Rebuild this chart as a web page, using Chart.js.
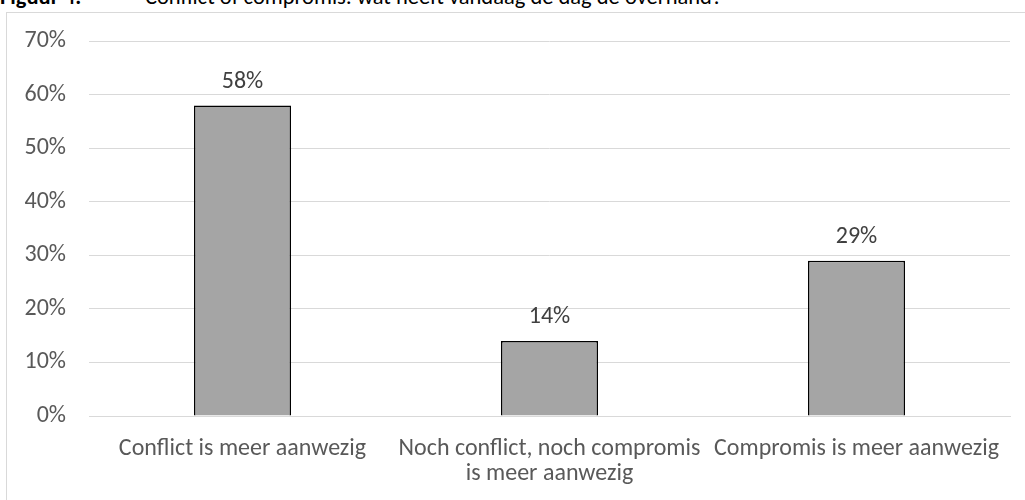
<!DOCTYPE html>
<html>
<head>
<meta charset="utf-8">
<script src="https://cdn.jsdelivr.net/npm/chart.js@4"></script>
<style>
  body { margin: 0; width: 1025px; height: 500px; overflow: hidden; background: #fff;
         font-family: 'Carlito', 'Liberation Sans Narrow', 'Open Sans', sans-serif; }
  #title { position: absolute; left: 0; top: -14px; font-size: 22.5px; line-height: 22px;
           white-space: nowrap; color: #000; }
  #title b { display: inline-block; width: 145px; }
  #frame { position: absolute; left: 6px; top: 12px; width: 1030px; height: 500px;
           border: 1px solid #d9d9d9; box-sizing: border-box; }
  #wrap { position: absolute; left: 7px; top: 4px; width: 1018px; height: 496px; }
</style>
</head>
<body>
<div id="title"><b>Figuur 4.</b>Conflict of compromis: wat heeft vandaag de dag de overhand?</div>
<div id="frame"></div>
<div id="wrap"><canvas id="chart"></canvas></div>
<script>
const FONT = "'Carlito', 'Liberation Sans Narrow', 'Open Sans', sans-serif";

const categories = [
  'Conflict is meer aanwezig',
  ['Noch conflict, noch compromis', 'is meer aanwezig'],
  'Compromis is meer aanwezig',
];
const values = [58, 14, 29];
const yTicks = [0, 10, 20, 30, 40, 50, 60, 70];

// labels boven de staven
const barLabels = {
  id: 'barLabels',
  afterDatasetsDraw(chart) {
    const ctx = chart.ctx;
    const meta = chart.getDatasetMeta(0);
    ctx.save();
    ctx.font = `24px ${FONT}`;
    ctx.fillStyle = '#404040';
    ctx.textAlign = 'center';
    ctx.textBaseline = 'middle';
    meta.data.forEach((bar, i) => {
      ctx.fillText(values[i] + '%', bar.x, bar.y - 24);
    });
    ctx.restore();
  },
};

new Chart(document.getElementById('chart'), {
  type: 'bar',
  data: {
    labels: categories,
    datasets: [{
      data: values,
      backgroundColor: '#a5a5a5',
      borderColor: '#000',
      borderWidth: 1.5,
      categoryPercentage: 1,
      barPercentage: 0.316,
    }],
  },
  options: {
    responsive: true,
    maintainAspectRatio: false,
    animation: false,
    layout: { padding: { top: 18, right: 15, left: 0, bottom: 0 } },
    plugins: { legend: { display: false }, tooltip: { enabled: false } },
    scales: {
      x: {
        grid: { display: false, drawTicks: false },
        border: { color: '#d9d9d9', width: 1 },
        ticks: {
          color: '#595959',
          font: { family: FONT, size: 24, lineHeight: 1.05 },
          padding: 20,
          maxRotation: 0,
          autoSkip: false,
        },
        afterFit: (axis) => { axis.height = 84; },
      },
      y: {
        min: 0,
        max: 70,
        afterBuildTicks: (axis) => { axis.ticks = yTicks.map(v => ({ value: v })); },
        grid: { color: '#d9d9d9', lineWidth: 1, drawTicks: false },
        border: { display: false },
        ticks: {
          color: '#595959',
          font: { family: FONT, size: 24 },
          padding: 23,
          callback: (v) => v + '%',
        },
        afterFit: (axis) => { axis.width = 82; },
      },
    },
  },
  plugins: [barLabels],
});
</script>
</body>
</html>
